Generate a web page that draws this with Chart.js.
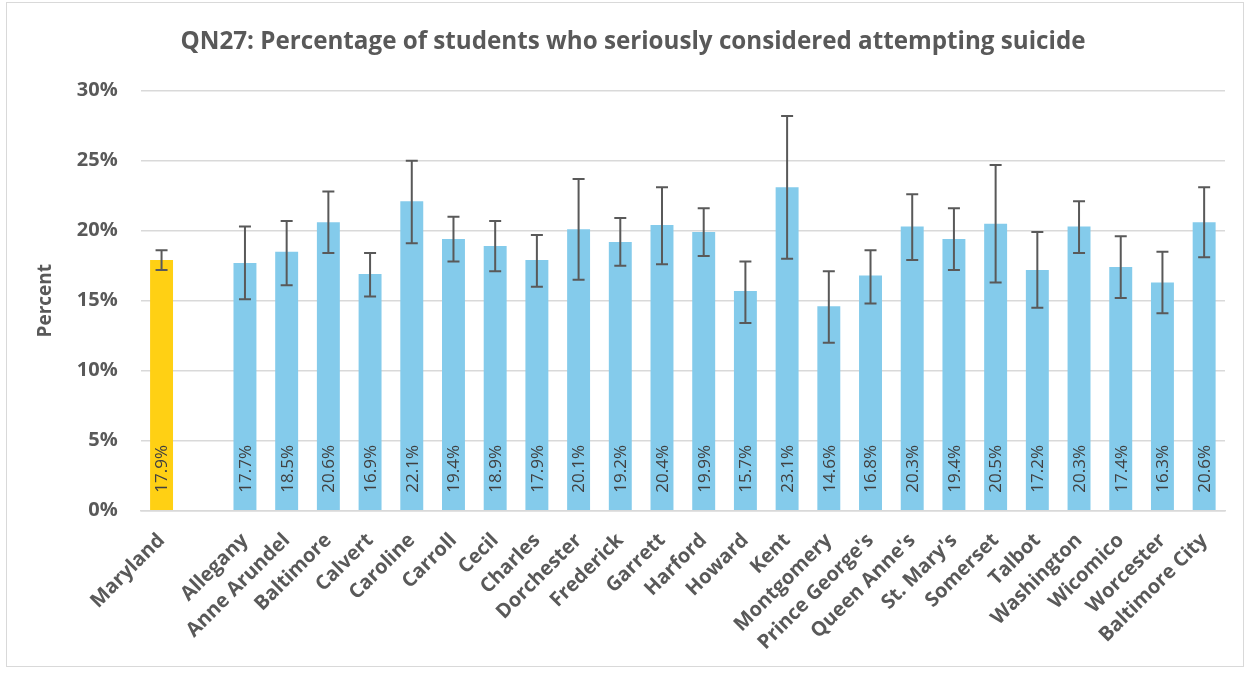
<!DOCTYPE html>
<html>
<head>
<meta charset="utf-8">
<script src="https://cdn.jsdelivr.net/npm/chart.js@4.4.1/dist/chart.umd.min.js"></script>
<style>
  html, body { margin: 0; padding: 0; background: #ffffff; }
  #wrap { position: relative; width: 1252px; height: 674px; }
  #frame { position: absolute; left: 6px; top: 2px; width: 1238px; height: 665px; border: 1px solid #D9D9D9; box-sizing: border-box; pointer-events: none; }
  canvas { position: absolute; left: 0; top: 0; }
</style>
</head>
<body>
<div id="wrap">
  <canvas id="c" width="1252" height="674"></canvas>
  <div id="frame"></div>
</div>
<script>
const chartTitle = 'QN27: Percentage of students who seriously considered attempting suicide';
const yAxisTitle = 'Percent';
const categories = ['Maryland', '', 'Allegany', 'Anne Arundel', 'Baltimore', 'Calvert', 'Caroline', 'Carroll', 'Cecil', 'Charles', 'Dorchester', 'Frederick', 'Garrett', 'Harford', 'Howard', 'Kent', 'Montgomery', "Prince George's", "Queen Anne's", "St. Mary's", 'Somerset', 'Talbot', 'Washington', 'Wicomico', 'Worcester', 'Baltimore City'];
const percentValues = [17.9, null, 17.7, 18.5, 20.6, 16.9, 22.1, 19.4, 18.9, 17.9, 20.1, 19.2, 20.4, 19.9, 15.7, 23.1, 14.6, 16.8, 20.3, 19.4, 20.5, 17.2, 20.3, 17.4, 16.3, 20.6];
const ciLower = [17.2, null, 15.1, 16.1, 18.4, 15.3, 19.1, 17.8, 17.1, 16.0, 16.5, 17.5, 17.6, 18.2, 13.4, 18.0, 12.0, 14.8, 17.9, 17.2, 16.3, 14.5, 18.4, 15.2, 14.1, 18.1];
const ciUpper = [18.6, null, 20.3, 20.7, 22.8, 18.4, 25.0, 21.0, 20.7, 19.7, 23.7, 20.9, 23.1, 21.6, 17.8, 28.2, 17.1, 18.6, 22.6, 21.6, 24.7, 19.9, 22.1, 19.6, 18.5, 23.1];
const yTicks = [0, 5, 10, 15, 20, 25, 30];
const stateColor = '#FFD014';
const countyColor = '#84CBEB';

const barColors = categories.map((c, i) => i === 0 ? stateColor : countyColor);

const fontFamily = '"Open Sans", "Liberation Sans", Arial, sans-serif';

const titlePlugin = {
  id: 'centeredTitle',
  afterDraw(chart) {
    const ctx = chart.ctx;
    ctx.save();
    ctx.fillStyle = '#595959';
    ctx.font = 'bold 24.2px ' + fontFamily;
    ctx.textAlign = 'center';
    ctx.textBaseline = 'middle';
    ctx.fillText(chartTitle, 633, 42);
    ctx.restore();
  }
};

const errorBarPlugin = {
  id: 'errorBars',
  afterDatasetsDraw(chart) {
    const ctx = chart.ctx;
    const meta = chart.getDatasetMeta(0);
    const y = chart.scales.y;
    ctx.save();
    ctx.strokeStyle = '#595959';
    ctx.lineWidth = 2;
    meta.data.forEach((bar, i) => {
      if (ciLower[i] == null) return;
      const x = bar.x;
      const yt = y.getPixelForValue(ciUpper[i]);
      const yb = y.getPixelForValue(ciLower[i]);
      ctx.beginPath();
      ctx.moveTo(x, yt); ctx.lineTo(x, yb);
      ctx.moveTo(x - 6, yt); ctx.lineTo(x + 6, yt);
      ctx.moveTo(x - 6, yb); ctx.lineTo(x + 6, yb);
      ctx.stroke();
    });
    ctx.restore();
  }
};

const valueLabelPlugin = {
  id: 'valueLabels',
  afterDraw(chart) {
    const ctx = chart.ctx;
    const meta = chart.getDatasetMeta(0);
    const y = chart.scales.y;
    ctx.save();
    ctx.fillStyle = '#404040';
    ctx.font = '17px ' + fontFamily;
    ctx.textAlign = 'left';
    ctx.textBaseline = 'middle';
    meta.data.forEach((bar, i) => {
      if (percentValues[i] == null) return;
      ctx.save();
      ctx.translate(bar.x, y.getPixelForValue(0) - 18);
      ctx.rotate(-Math.PI / 2);
      ctx.fillText(percentValues[i].toFixed(1) + '%', 0, 1);
      ctx.restore();
    });
    ctx.restore();
  }
};

new Chart(document.getElementById('c'), {
  type: 'bar',
  data: {
    labels: categories,
    datasets: [{
      data: percentValues,
      backgroundColor: barColors,
      borderWidth: 0,
      barPercentage: 0.55,
      categoryPercentage: 1.0
    }]
  },
  options: {
    responsive: false,
    animation: false,
    devicePixelRatio: 1,
    layout: { padding: { left: 8, right: 27, top: 90.7, bottom: 6 } },
    plugins: {
      legend: { display: false },
      tooltip: { enabled: false },
      title: { display: false }
    },
    scales: {
      x: {
        grid: { display: false, drawTicks: false },
        border: { display: true, color: '#D9D9D9', width: 1.5 },
        ticks: {
          color: '#595959',
          font: { family: fontFamily, size: 20, weight: 'bold' },
          minRotation: 45,
          maxRotation: 45,
          autoSkip: false,
          padding: 18
        },
        afterFit(scale) { scale.height = 674 - 510.7 - 6; }
      },
      y: {
        min: 0,
        max: 30,
        afterBuildTicks(scale) { scale.ticks = yTicks.map(v => ({ value: v })); },
        grid: { color: '#D9D9D9', lineWidth: 1.5, drawTicks: false },
        border: { display: false },
        ticks: {
          color: '#595959',
          font: { family: fontFamily, size: 20, weight: 'bold' },
          padding: 23,
          callback: v => v + '%'
        },
        title: {
          display: true,
          text: yAxisTitle,
          color: '#595959',
          font: { family: fontFamily, size: 19, weight: 'bold' },
          padding: { top: 26.6, bottom: 0 }
        },
        afterFit(scale) { scale.width = 140.7 - 8; }
      }
    }
  },
  plugins: [errorBarPlugin, valueLabelPlugin, titlePlugin]
});
</script>
</body>
</html>
